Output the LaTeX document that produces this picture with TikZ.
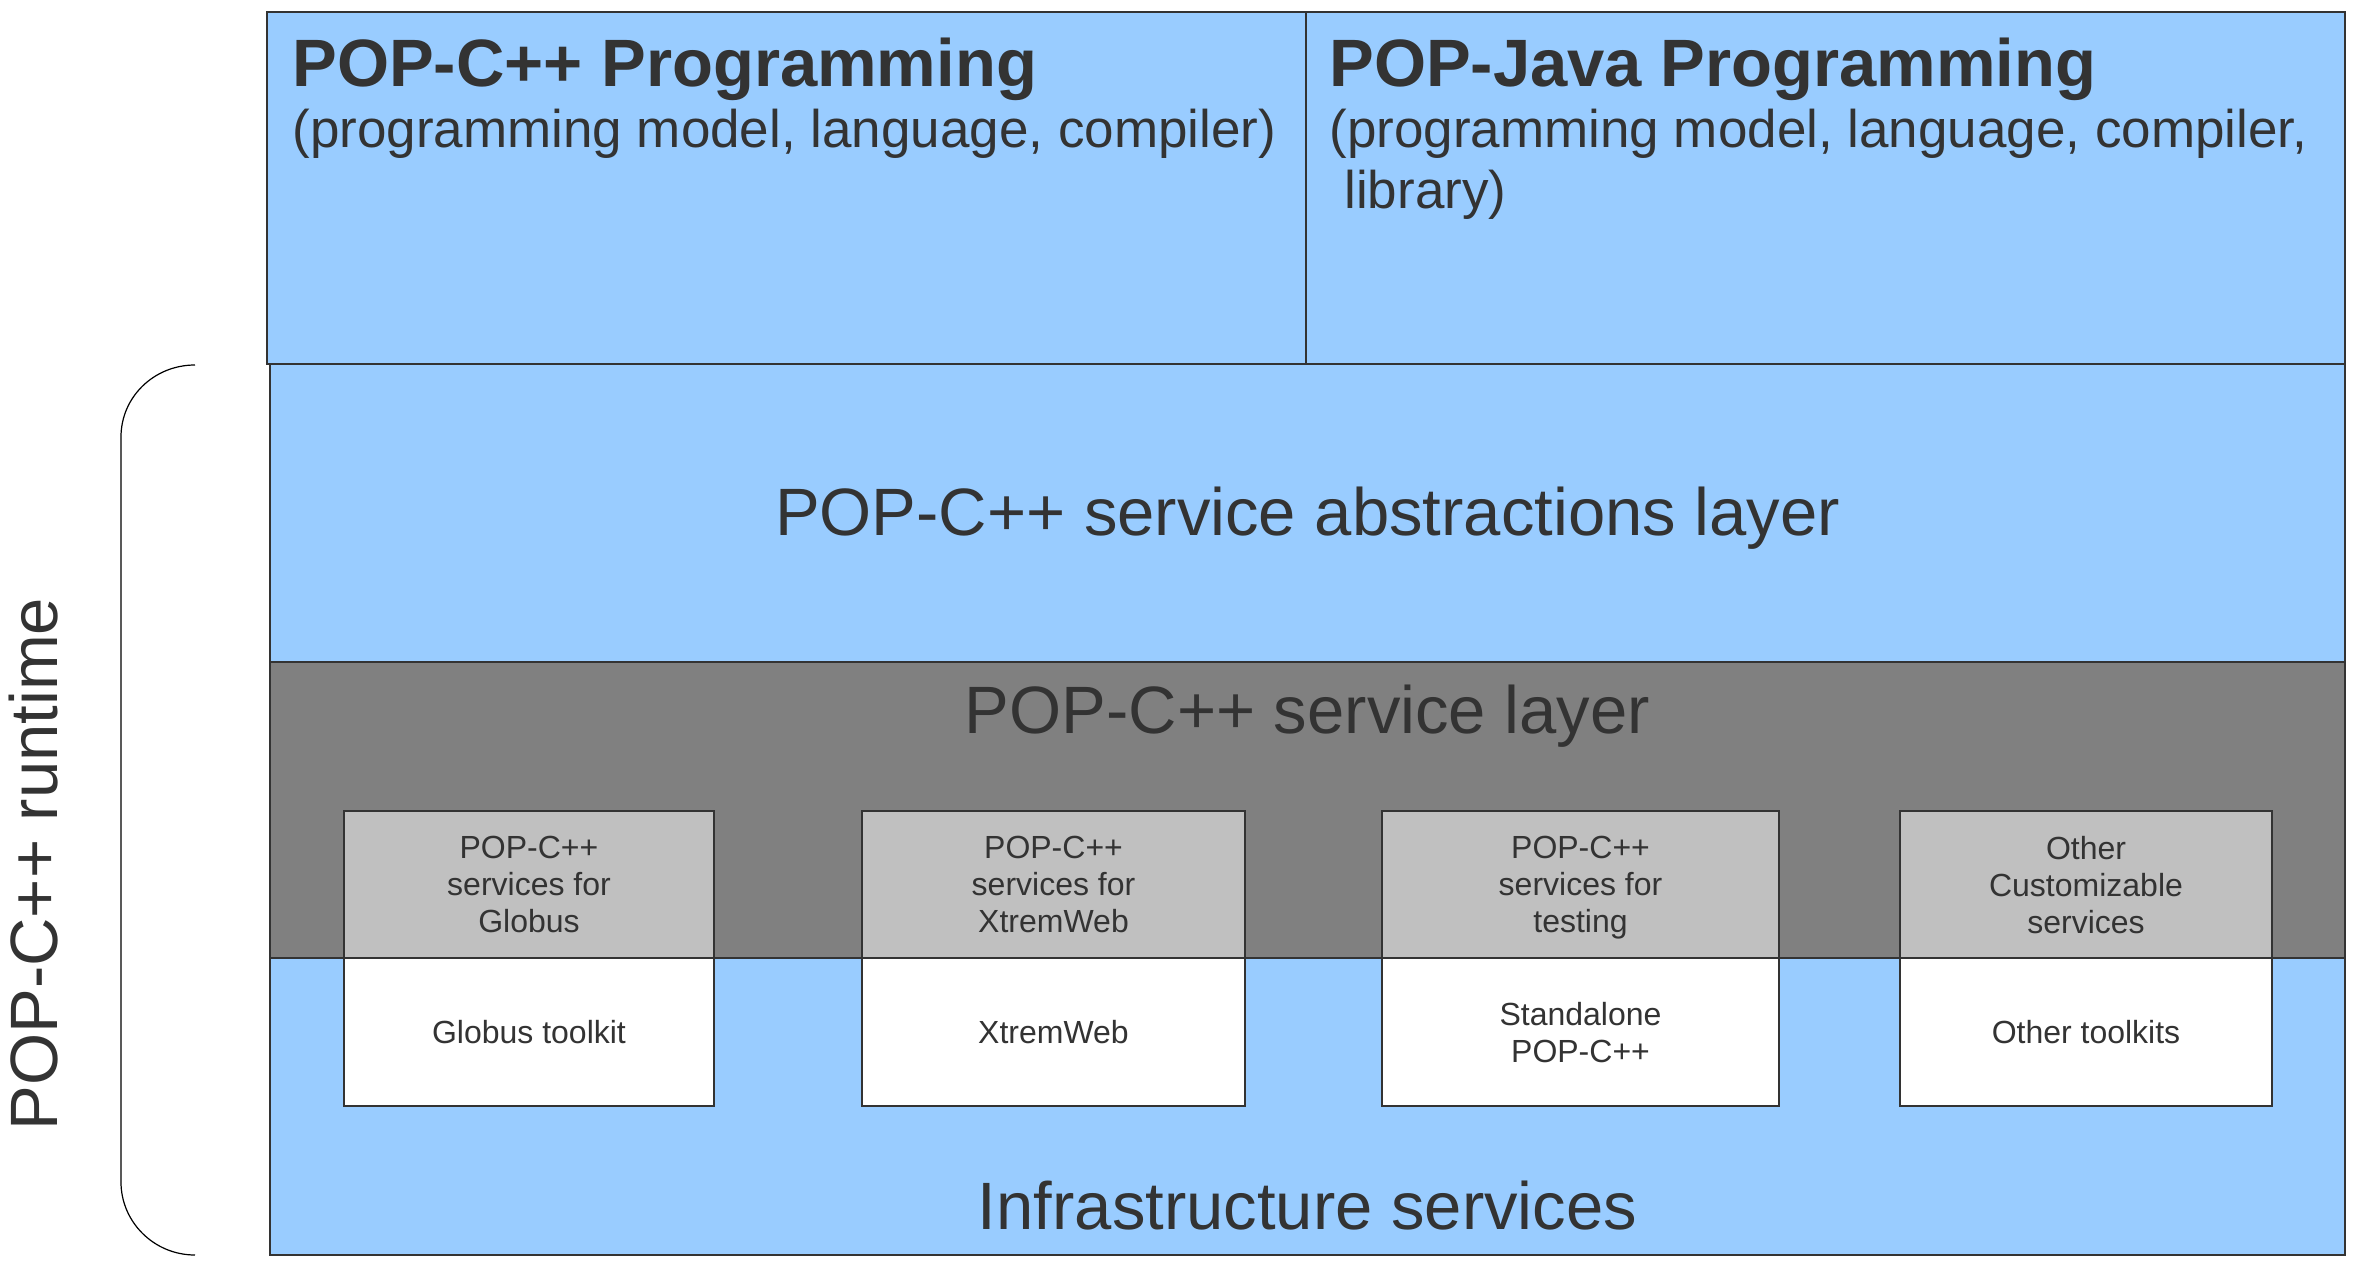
\documentclass[tikz,border=0pt]{standalone}
\usepackage{fontspec}
\setmainfont{Liberation Sans}
\definecolor{layerblue}{HTML}{99CCFF}
\definecolor{layergray}{HTML}{808080}
\definecolor{boxgray}{HTML}{C0C0C0}
\definecolor{txt}{HTML}{333333}
\begin{document}
\begin{tikzpicture}[x=0.5pt,y=-0.5pt,
  layer/.style={draw=txt, line width=1pt, rectangle, inner sep=0pt, outer sep=0pt, anchor=north west},
  bigtext/.style={font=\fontsize{33.5}{38.5}\selectfont, text=txt, inner sep=0pt},
  titletext/.style={font=\fontsize{33.5}{38.5}\selectfont\bfseries, text=txt, inner sep=0pt, anchor=base west},
  subtext/.style={font=\fontsize{26.5}{30.5}\selectfont, text=txt, inner sep=0pt, anchor=base west},
  svcbox/.style={draw=txt, line width=1pt, fill=boxgray, rectangle, align=center, inner sep=0pt, outer sep=0pt,
    font=\fontsize{16}{18.5}\selectfont, text=txt, text depth=0pt, minimum height=73.5pt},
  tkbox/.style={svcbox, fill=white, minimum height=74pt},
  brace/.style={draw=black, line width=0.6pt}]
\useasboundingbox (0,0) rectangle (2360,1272);

% top boxes
\node[layer, fill=layerblue, minimum width=519.5pt, minimum height=176pt] (cpp) at (267,12) {};
\node[layer, fill=layerblue, minimum width=519.5pt, minimum height=176pt] (java) at (1306,12) {};
% layers
\node[layer, fill=layerblue, minimum width=1037.5pt, minimum height=149pt] (abs) at (270,364) {};
\node[layer, fill=layergray, minimum width=1037.5pt, minimum height=148pt] (svc) at (270,662) {};
\node[layer, fill=layerblue, minimum width=1037.5pt, minimum height=148.5pt] (infra) at (270,958) {};

% titles
\node[titletext] (cpptitle) at (292,87) {POP-C++ Programming};
\node[subtext] (cppsub) at (292,148) {(programming model, language, compiler)};
\node[titletext] (javatitle) at (1329,87) {POP-Java Programming};
\node[subtext] (javasub) at (1329,148) {(programming model, language, compiler,};
\node[subtext] (javasubb) at (1344,209) {library)};

% layer labels
\node[bigtext, anchor=base] (abslbl) at (1307.5,536) {POP-C++ service abstractions layer};
\node[bigtext, anchor=base] (svclbl) at (1307.5,733) {POP-C++ service layer};
\node[bigtext, anchor=base] (infralbl) at (1307.5,1229) {Infrastructure services};

% service boxes
\node[svcbox, minimum width=185pt] (s1) at (529,884.5) {POP-C++\\services for\\Globus};
\node[svcbox, minimum width=191.5pt] (s2) at (1053.5,884.5) {POP-C++\\services for\\XtremWeb};
\node[svcbox, minimum width=198.5pt] (s3) at (1580.5,884.5) {POP-C++\\services for\\testing};
\node[svcbox, minimum width=186pt] (s4) at (2086,884.5) {Other\\Customizable\\services};
% toolkit boxes
\node[tkbox, minimum width=185pt] (k1) at (529,1032) {Globus toolkit};
\node[tkbox, minimum width=191.5pt] (k2) at (1053.5,1032) {XtremWeb};
\node[tkbox, minimum width=198.5pt] (k3) at (1580.5,1032) {Standalone\\POP-C++};
\node[tkbox, minimum width=186pt] (k4) at (2086,1032) {Other toolkits};

% brace
\coordinate (bt) at (195,365);
\coordinate (bb) at (195,1255);
\draw[brace] (bt) .. controls (154,365) and (121,397) .. (121,437)
  -- (121,1182) .. controls (121,1222) and (154,1255) .. (bb);
\node[bigtext, rotate=90, anchor=base] (runtime) at (57,864) {POP-C++ runtime};
\end{tikzpicture}
\end{document}
